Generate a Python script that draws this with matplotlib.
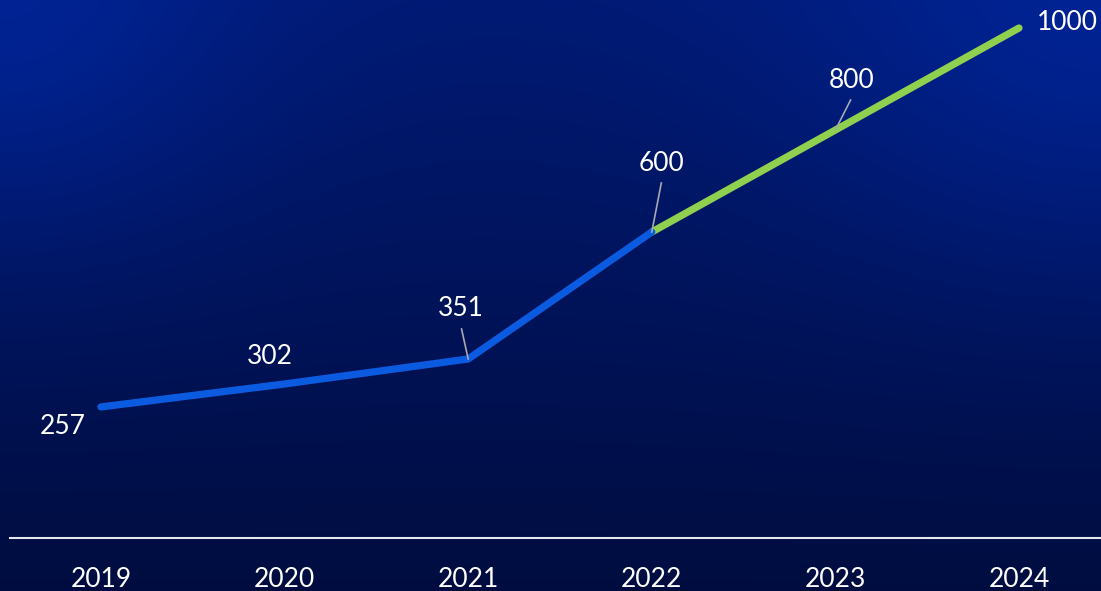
import numpy as np
import matplotlib
matplotlib.use('Agg')
import matplotlib.pyplot as plt

# data
years = [2019, 2020, 2021, 2022, 2023, 2024]
values = [257, 302, 351, 600, 800, 1000]
year_labels = ['2019', '2020', '2021', '2022', '2023', '2024']

plt.rcParams['font.family'] = ['Lato', 'DejaVu Sans']

fig = plt.figure(figsize=(11.01, 5.91), dpi=100)
ax = fig.add_axes([0, 0, 1, 1])

# pixel mapping: year 2019 -> x=101, step 183.6 px; value 0 -> y=538, 0.51 px per unit
px_x = 183.6
px_y = 0.51
x0 = 2019 - 101 / px_x
x1 = 2019 + (1101 - 101) / px_x
y1 = 538 / px_y
y0 = -(591 - 538) / px_y
ax.set_xlim(x0, x1)
ax.set_ylim(y0, y1)
ax.axis('off')

# background gradient
h, w = 300, 560
yy, xx = np.mgrid[0:1:h * 1j, 0:1:w * 1j]
top = np.array([0.0, 0.10, 0.45])
bot = np.array([0.0, 0.05, 0.25])
t = yy[..., None]
img = top * (1 - t) + bot * t
glow_l = np.exp(-((xx - 0.0) ** 2 / 0.05 + (yy - 0.0) ** 2 / 0.15))[..., None]
glow_r = np.exp(-((xx - 1.0) ** 2 / 0.08 + (yy - 0.0) ** 2 / 0.2))[..., None]
glow_col = np.array([0.0, 0.16, 0.66])
img = img * (1 - 0.6 * glow_l) + glow_col * 0.6 * glow_l
img = img * (1 - 0.6 * glow_r) + glow_col * 0.6 * glow_r
ax.imshow(np.clip(img, 0, 1), extent=[x0, x1, y0, y1], aspect='auto', zorder=0)

# baseline
ax.axhline(0, xmin=10 / 1101, xmax=1, color='#e6e6ef', lw=1.5, zorder=1)

# lines
ax.plot(years[:4], values[:4], color='#0b5be0', lw=5.2, solid_capstyle='round',
        solid_joinstyle='round', zorder=3)
ax.plot(years[3:], values[3:], color='#8fd14f', lw=5.2, solid_capstyle='round',
        solid_joinstyle='round', zorder=2)

# year labels
for yr, lab in zip(years, year_labels):
    ax.text(yr, -82, lab, color='white', fontsize=19, ha='center', va='center')

# value labels: offsets in px (dx, dy) from the point, leader line or not
offsets = [(-38, -20, False), (-15, 27, False), (-7, 50, True),
           (10, 69, True), (16, 50, True), (48, 6, False)]
for yr, v, (dx, dy, leader) in zip(years, values, offsets):
    tx = yr + dx / px_x
    ty = v + dy / px_y
    ax.text(tx, ty, str(v), color='white', fontsize=19, ha='center', va='center',
            zorder=5)
    if leader:
        lx = yr + (dx * 0.95) / px_x
        ly = v + (dy - 20) / px_y
        ax.plot([yr, lx], [v, ly], color='#a8a8b0', lw=1.2, zorder=4)

fig.savefig('out.png', dpi=100)
